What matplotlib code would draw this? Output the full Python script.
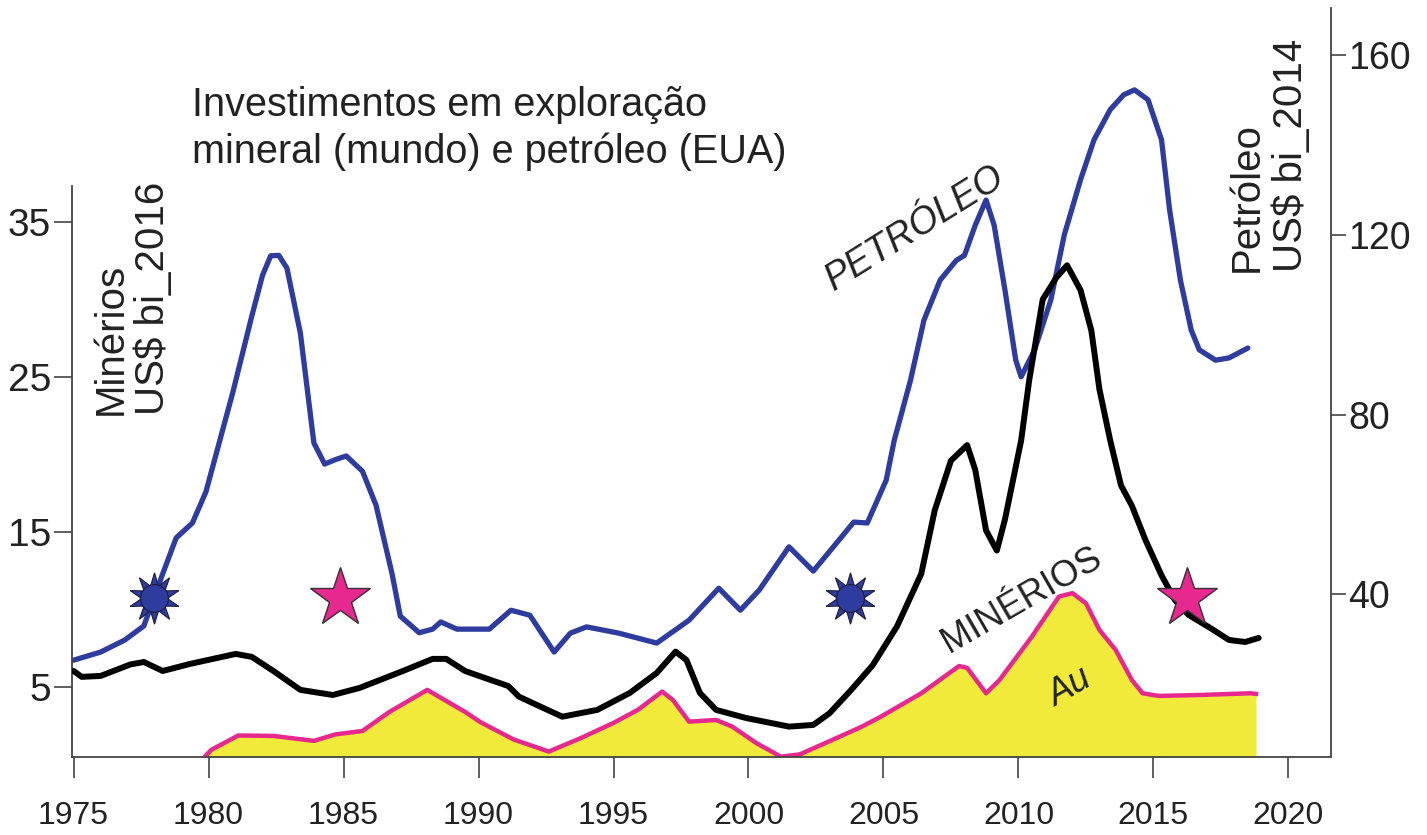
import matplotlib
matplotlib.use("Agg")
import matplotlib.pyplot as plt

plt.rcParams['font.family'] = ['Liberation Sans', 'DejaVu Sans']

# Petroleo (EUA), US$ bi 2014 - right axis
pet_years = [1975.0, 1976.0, 1976.9, 1977.6, 1978.3, 1978.8, 1979.4, 1979.9, 1980.9, 1981.6,
             1982.0, 1982.3, 1982.6, 1982.9, 1983.4, 1983.9, 1984.3, 1984.7, 1985.1, 1985.7,
             1986.2, 1986.8, 1987.1, 1987.8, 1988.3, 1988.6, 1989.2, 1990.4, 1991.2, 1991.9,
             1992.8, 1993.4, 1994.0, 1995.2, 1996.6, 1997.8, 1998.9, 1999.7, 2000.4, 2001.5,
             2002.4, 2003.2, 2003.9, 2004.4, 2005.1, 2005.4, 2006.0, 2006.5, 2007.1, 2007.7,
             2008.0, 2008.4, 2008.8, 2009.1, 2009.5, 2009.9, 2010.1, 2010.6, 2011.2, 2011.7,
             2012.3, 2012.8, 2013.4, 2013.9, 2014.3, 2014.8, 2015.3, 2015.6, 2016.0, 2016.4,
             2016.7, 2017.3, 2017.8, 2018.5]
pet_vals = [25.4, 27.2, 29.9, 33.0, 44.6, 52.6, 55.9, 62.8, 85.0, 101.9,
            111.0, 115.3, 115.4, 112.6, 98.1, 73.7, 69.0, 70.0, 70.8, 67.4,
            59.9, 44.5, 35.2, 31.5, 32.3, 33.9, 32.3, 32.3, 36.5, 35.4,
            27.2, 31.4, 32.8, 31.4, 29.2, 34.3, 41.4, 36.5, 41.0, 50.6,
            45.2, 51.0, 56.1, 55.9, 65.4, 74.3, 87.6, 101.0, 109.9, 114.3,
            115.4, 122.1, 127.7, 122.1, 107.7, 92.1, 88.4, 94.4, 105.5, 120.0,
            132.2, 141.1, 147.8, 151.1, 152.2, 150.0, 141.1, 125.5, 109.9, 98.8,
            94.4, 92.1, 92.6, 94.8]

# Minerios (mundo), US$ bi 2016 - left axis
min_years = [1975.0, 1975.3, 1976.0, 1977.1, 1977.6, 1978.3, 1979.3, 1981.0, 1981.6, 1982.4,
             1983.4, 1984.6, 1985.6, 1987.2, 1988.3, 1988.8, 1989.5, 1990.2, 1991.1, 1991.5,
             1993.1, 1994.4, 1995.6, 1996.6, 1997.3, 1997.7, 1998.2, 1998.8, 1999.9, 2001.5,
             2002.4, 2003.0, 2003.8, 2004.6, 2005.5, 2006.4, 2006.9, 2007.5, 2008.1, 2008.4,
             2008.8, 2009.2, 2009.5, 2010.1, 2010.4, 2010.9, 2011.4, 2011.8, 2012.3, 2012.7,
             2013.0, 2013.4, 2013.8, 2014.2, 2014.7, 2015.3, 2015.8, 2016.3, 2017.1, 2017.8,
             2018.4, 2018.9]
min_vals = [6.03, 5.65, 5.71, 6.45, 6.61, 6.03, 6.48, 7.13, 6.94, 6.03,
            4.81, 4.48, 4.94, 6.03, 6.81, 6.81, 6.03, 5.60, 5.06, 4.37,
            3.08, 3.52, 4.61, 5.90, 7.28, 6.74, 4.61, 3.52, 3.00, 2.44,
            2.55, 3.30, 4.80, 6.40, 8.90, 12.3, 16.4, 19.6, 20.6, 19.0,
            15.1, 13.8, 15.8, 20.9, 24.8, 30.0, 31.4, 32.2, 30.6, 28.0,
            24.2, 20.9, 18.0, 16.7, 14.5, 12.2, 10.6, 9.65, 8.81, 8.03,
            7.90, 8.16]

# Ouro (Au) - left axis
au_years = [1979.8, 1980.1, 1981.1, 1982.4, 1983.9, 1984.7, 1985.7, 1986.7, 1988.1, 1989.5,
            1990.1, 1991.3, 1992.6, 1993.8, 1995.0, 1995.9, 1996.8, 1997.2, 1997.8, 1998.8,
            1999.4, 2000.3, 2001.2, 2001.9, 2003.0, 2004.2, 2004.9, 2006.4, 2007.8, 2008.1,
            2008.8, 2009.3, 2010.5, 2011.5, 2012.0, 2012.5, 2013.0, 2013.6, 2014.2, 2014.6,
            2015.2, 2016.7, 2018.6, 2018.8]
au_vals = [0.38, 0.94, 1.87, 1.84, 1.52, 1.94, 2.16, 3.39, 4.81, 3.39,
           2.70, 1.61, 0.83, 1.71, 2.68, 3.52, 4.70, 4.16, 2.76, 2.87,
           2.44, 1.37, 0.50, 0.65, 1.50, 2.44, 3.08, 4.59, 6.35, 6.23,
           4.59, 5.45, 8.25, 10.83, 11.05, 10.40, 8.68, 7.39, 5.45, 4.59,
           4.42, 4.48, 4.59, 4.55]

# Marcadores (ano, valor no eixo de minerios)
sun_years = [1977.96, 2003.76]
sun_vals = [10.72, 10.72]
star_years = [1984.87, 2016.23]
star_vals = [10.72, 10.72]

x_ticks = [1975, 1980, 1985, 1990, 1995, 2000, 2005, 2010, 2015, 2020]
left_ticks = [5, 15, 25, 35]
right_ticks = [40, 80, 120, 160]

W, H = 1427, 835


def fx(px):
    return px / W


def fy(py):
    return 1 - py / H


BLUE = '#2D3C9E'
PINK = '#E6288F'
YELLOW = '#F2EA3A'
TXT = '#222222'
SPINE = '#444444'

fig = plt.figure(figsize=(W / 100, H / 100), dpi=100)
ax = fig.add_axes([fx(72), fy(757), (1330.5 - 72) / W, (757 - 8) / H])
ax2 = ax.twinx()
ax.set_zorder(ax2.get_zorder() + 1)
ax.patch.set_visible(False)

# series
ax2.plot(pet_years, pet_vals, color=BLUE, lw=3.8, solid_joinstyle='round', solid_capstyle='round')
ax.fill_between(au_years, 0, au_vals, color=YELLOW, lw=0, zorder=1)
ax.plot(au_years, au_vals, color=PINK, lw=3.2, solid_joinstyle='round', zorder=2)
ax.plot(min_years, min_vals, color='black', lw=4.3, solid_joinstyle='round', solid_capstyle='round', zorder=3)

# markers
ax.plot(sun_years, sun_vals, ls='none', marker=(10, 1, 0), ms=37, mfc=BLUE, mec='#1c1c3a', mew=0.8, zorder=5)
ax.plot(sun_years, sun_vals, ls='none', marker='o', ms=20, mfc=BLUE, mec='#1c1c3a', mew=0.8, zorder=6)
ax.plot(star_years, star_vals, ls='none', marker='*', ms=45, mfc=PINK, mec='#333333', mew=1.0, zorder=5)

# axes
ax.set_xlim(1974.94, 2021.56)
ax.set_ylim(0.48, 48.8)
ax2.set_ylim(3.87, 170.4)

ax.set_xticks(x_ticks)
ax.set_yticks(left_ticks)
ax2.set_yticks(right_ticks)

ax.tick_params(axis='x', direction='out', length=15, width=1.2, pad=17, labelsize=23,
               color=SPINE, labelcolor=TXT)
ax.tick_params(axis='y', direction='out', length=13, width=1.2, pad=2, labelsize=28,
               color=SPINE, labelcolor=TXT)
ax2.tick_params(axis='y', direction='out', length=11, width=1.2, pad=2, labelsize=27,
                color=SPINE, labelcolor=TXT)

for s in ['top', 'right']:
    ax.spines[s].set_visible(False)
for s in ['top', 'left', 'bottom']:
    ax2.spines[s].set_visible(False)
for sp in [ax.spines['left'], ax.spines['bottom'], ax2.spines['right']]:
    sp.set_color(SPINE)
    sp.set_linewidth(1.3)
ax.spines['left'].set_bounds(0.48, 37.3)

# texts
fig.text(fx(192), fy(116), 'Investimentos em exploração', fontsize=28.5, color=TXT, va='baseline')
fig.text(fx(192), fy(163), 'mineral (mundo) e petróleo (EUA)', fontsize=28.5, color=TXT, va='baseline')

fig.text(fx(111), fy(415), 'Minérios', rotation=90, ha='center', va='bottom', fontsize=29, color=TXT)
fig.text(fx(153), fy(415), 'US$ bi_2016', rotation=90, ha='center', va='bottom', fontsize=29, color=TXT)
fig.text(fx(1247), fy(272), 'Petróleo', rotation=90, ha='center', va='bottom', fontsize=29, color=TXT)
fig.text(fx(1291), fy(272), 'US$ bi_2014', rotation=90, ha='center', va='bottom', fontsize=29, color=TXT)

fig.text(fx(915), fy(228), 'PETRÓLEO', rotation=32, rotation_mode='anchor', ha='center', va='center',
         fontsize=27, style='italic', color=TXT)
fig.text(fx(1022), fy(600), 'MINÉRIOS', rotation=30, rotation_mode='anchor', ha='center', va='center',
         fontsize=26, color=TXT)
fig.text(fx(1070), fy(688), 'Au', rotation=30, rotation_mode='anchor', ha='center', va='center',
         fontsize=26, style='italic', color=TXT)

fig.savefig('out.png', dpi=100)
